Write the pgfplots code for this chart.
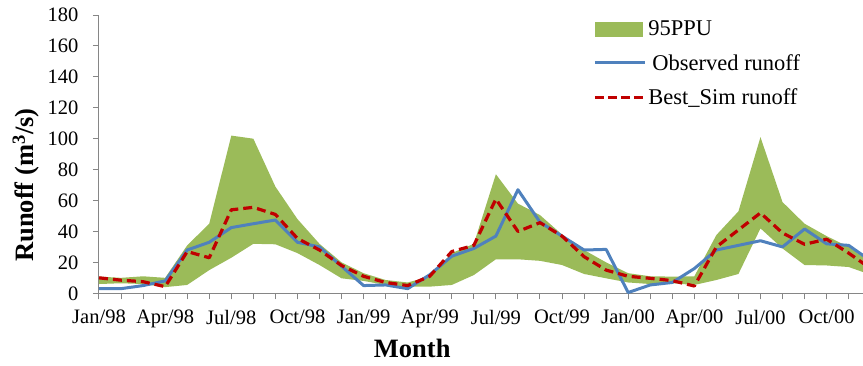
\documentclass[border=0pt]{standalone}
\usepackage{fontspec}
\setmainfont{Liberation Serif}
\usepackage{pgfplots}
\pgfplotsset{compat=1.18}
\usepgfplotslibrary{fillbetween}
\definecolor{pgreen}{RGB}{155,187,89}
\definecolor{pblue}{RGB}{79,129,189}
\definecolor{pred}{RGB}{192,0,0}
\definecolor{axgray}{RGB}{134,134,134}

\pgfplotstableread{
i obs sim up lo
0 3 10 10.8 6
1 3 8.5 10 6.5
2 5 7.5 11 6
3 8 4.3 10 4
4 28 27 31 5.4
5 33 23 45 15
6 42.5 54 102 23
7 45 55.6 100 32
8 47.4 51 69 31.7
9 33 35.5 48 26
10 30 28 32 18.3
11 17.5 18 20 9.7
12 5 11 13 8
13 5.4 7 8.6 5.4
14 3 5 7 4.3
15 12 11 10.8 4.3
16 24 27 26 5.4
17 29 31 32 11.8
18 37 61 77 22
19 67 40 58 22
20 46 45.7 50.6 21
21 37 37 38 18.3
22 28 23.7 28 12.5
23 28.4 15 20 9.7
24 0.5 11 13 7
25 5.4 9.7 11 6
26 7 8.2 10.8 6.5
27 16 4.7 11 5.4
28 28 30 37.7 8.6
29 31 41 53 12.5
30 34 52 101 42
31 30 39 59 29
32 41.6 31.7 45 18.3
33 32 35 37 18
34 31 26 30 17
35 21 16 20 12
}\datatable

\begin{document}
\begin{tikzpicture}
\begin{axis}[
  at={(0pt,0pt)}, anchor=south west,
  scale only axis, width=764pt, height=278.3pt,
  xmin=0, xmax=34.65, ymin=0, ymax=180,
  axis lines*=left,
  axis line style={axgray, line width=1pt},
  xtick={0,3,...,33},
  xticklabels={Jan/98,Apr/98,Jul/98,Oct/98,Jan/99,Apr/99,Jul/99,Oct/99,Jan/00,Apr/00,Jul/00,Oct/00},
  minor xtick={0,1,...,34},
  ytick={0,20,...,180},
  tick align=outside,
  major tick length=6pt, minor tick length=6pt,
  tick style={axgray, line width=1pt},
  minor tick style={axgray, line width=1pt},
  ticklabel style={font=\fontsize{20.5}{24}\selectfont, text=black},
  /pgf/number format/assume math mode=true,
  xticklabel style={yshift=-7pt},
  yticklabel style={xshift=-11pt},
  xlabel={Month}, ylabel={Runoff (m\textsuperscript{3}/s)},
  label style={font=\fontsize{26.5}{30}\selectfont\bfseries},
  xlabel style={at={(ticklabel cs:0.41)}, anchor=north, yshift=-4pt},
  ylabel style={at={(axis description cs:-0.0955,0.389)}, anchor=center},
  legend cell align=left,
  legend style={at={(axis description cs:0.6466,0.987)}, anchor=north west,
    draw=none, fill=none, font=\fontsize{22.5}{27}\selectfont,
    row sep=13pt, inner sep=0pt},
]
\addplot[name path=up, draw=none, forget plot] table[x=i, y=up] {\datatable};
\addplot[name path=lo, draw=none, forget plot] table[x=i, y=lo] {\datatable};
\addplot[fill=pgreen, draw=none, forget plot] fill between[of=up and lo];

\addlegendimage{legend image code/.code={\fill[pgreen] (0pt,-7pt) rectangle (47pt,7pt);}}
\addlegendentry{95PPU}

\addplot[pblue, line width=3pt, line join=round,
  legend image code/.code={\draw[pblue, line width=3pt] (0pt,0pt) -- (50pt,0pt);}]
  table[x=i, y=obs] {\datatable};
\addlegendentry{\hspace{4pt}Observed runoff}

\addplot[pred, line width=3.2pt, dash pattern=on 9pt off 5pt, line join=round,
  legend image code/.code={\draw[pred, line width=3.2pt, dash pattern=on 9pt off 4pt] (0pt,0pt) -- (50pt,0pt);}]
  table[x=i, y=sim] {\datatable};
\addlegendentry{Best\_Sim runoff}
\end{axis}
\pgfresetboundingbox
\path[use as bounding box] (-99pt,-71.7pt) rectangle (764pt,293.3pt);
\end{tikzpicture}
\end{document}
